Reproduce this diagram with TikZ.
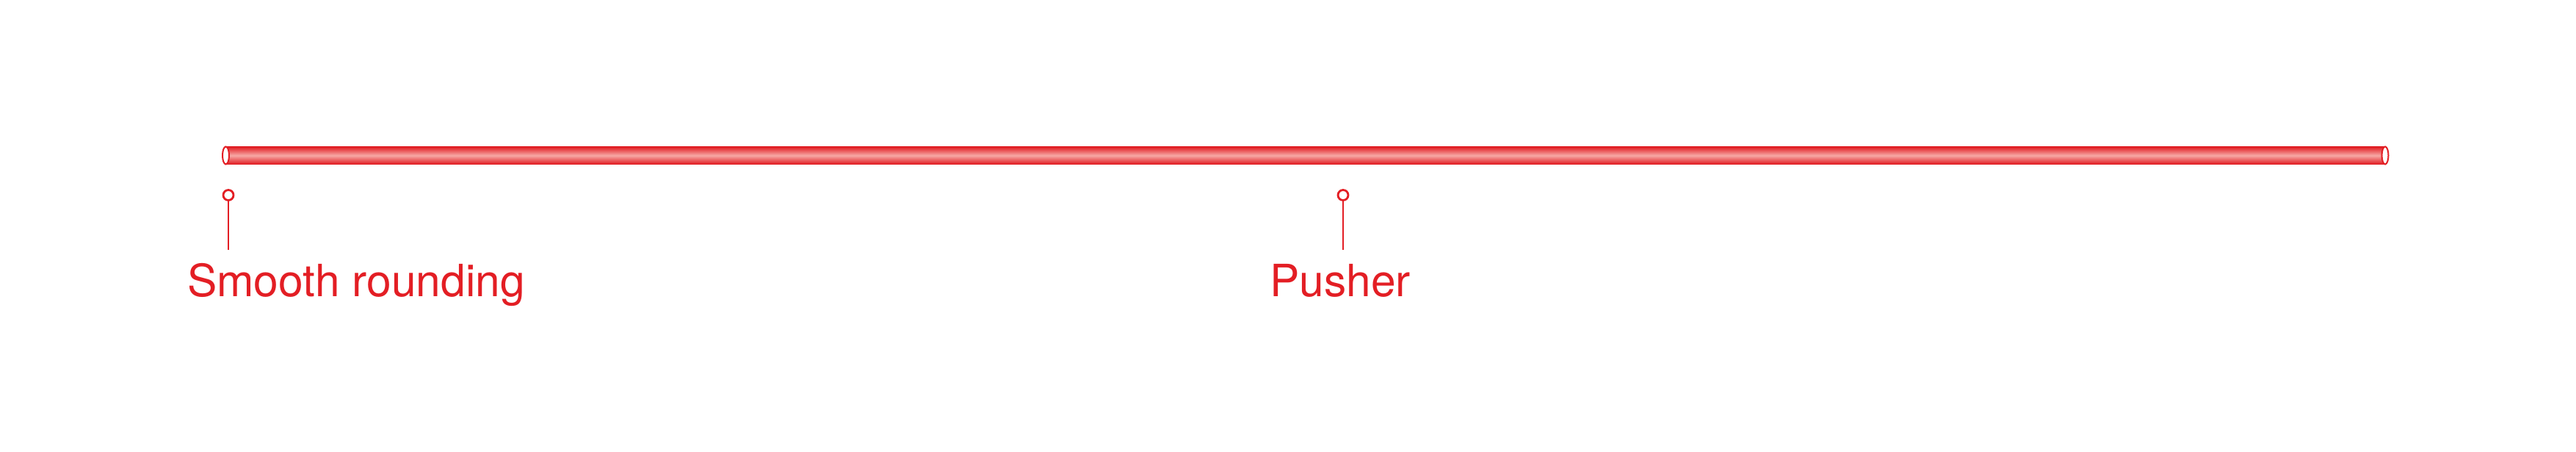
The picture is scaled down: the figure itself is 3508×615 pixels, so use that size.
\documentclass[tikz,border=0pt]{standalone}
\usepackage{fontspec}
\setmainfont{TeX Gyre Heros}
\definecolor{brand}{HTML}{E31E24}
\definecolor{roddark}{HTML}{E0191F}
\definecolor{rodlight}{HTML}{F7A9A6}
\begin{document}
\begin{tikzpicture}[x=1pt,y=-1pt,
  pin/.style={circle,draw=brand,fill=white,line width=2.8pt,minimum size=14pt,inner sep=0pt},
  stem/.style={draw=brand,line width=2.8pt},
  lbl/.style={inner sep=0pt,text=brand,font=\fontsize{60.5}{72}\selectfont}
]
\useasboundingbox (0,0) rectangle (3508,615);
% rod
\shade[top color=roddark,bottom color=roddark,middle color=rodlight] (308,199.5) rectangle (3248,223.5);
\draw[brand,line width=2pt,fill=white] (307.5,211.5) ellipse [x radius=4.5, y radius=12];
\draw[brand,line width=2pt,fill=white] (3248,211.5) ellipse [x radius=4.5, y radius=12];
% pins and labels
\node[pin] (p1) at (311,265.5) {};
\coordinate (c1) at (311,340);
\draw[stem] (p1) -- (c1);
\node[lbl,anchor=base west] (t1) at (255,403) {Smooth rounding};
\node[pin] (p2) at (1829,265.5) {};
\coordinate (c2) at (1829,340);
\draw[stem] (p2) -- (c2);
\node[lbl,anchor=base] (t2) at (1825,403) {Pusher};
\end{tikzpicture}
\end{document}
